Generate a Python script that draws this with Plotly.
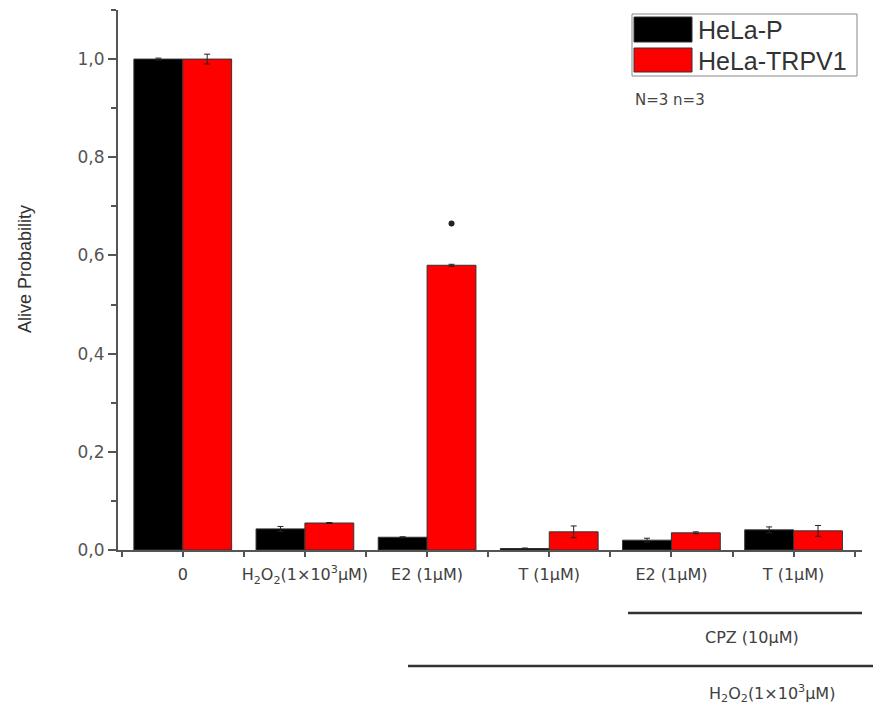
import plotly.graph_objects as go

categories = ["0", "H<sub>2</sub>O<sub>2</sub>(1×10<sup>3</sup>μM)", "E2 (1μM)", "T (1μM)", "E2 (1μM)", "T (1μM)"]
positions = [0, 1, 2, 3, 4, 5]
hela_p = [1.0, 0.043, 0.026, 0.003, 0.020, 0.041]
hela_p_err = [0.002, 0.005, 0.001, 0.001, 0.004, 0.006]
hela_trpv1 = [1.0, 0.055, 0.580, 0.037, 0.035, 0.039]
hela_trpv1_err = [0.010, 0.001, 0.002, 0.012, 0.002, 0.011]
sig_x = [2.2]
sig_y = [0.665]
y_ticks = [0.0, 0.2, 0.4, 0.6, 0.8, 1.0]

WIDE = "DejaVu Sans, Verdana, sans-serif"
ARIAL = "Liberation Sans, Arial, sans-serif"

# plot area in pixels
L, R, T, B = 118, 862, 10, 550
W, H = 873, 707


def px(x):
    return (x - L) / (R - L)


def py(y):
    return (B - y) / (B - T)


fig = go.Figure()
fig.add_trace(go.Bar(
    x=positions, y=hela_p, name="HeLa-P",
    marker=dict(color="#000000", line=dict(color="#333333", width=1)),
    error_y=dict(type="data", array=hela_p_err, color="#222222", thickness=1, width=3),
    showlegend=False,
))
fig.add_trace(go.Bar(
    x=positions, y=hela_trpv1, name="HeLa-TRPV1",
    marker=dict(color="#ff0000", line=dict(color="#333333", width=1)),
    error_y=dict(type="data", array=hela_trpv1_err, color="#222222", thickness=1, width=3),
    showlegend=False,
))
fig.add_trace(go.Scatter(
    x=sig_x, y=sig_y, mode="markers",
    marker=dict(color="#222222", size=6), showlegend=False,
))

fig.update_layout(
    width=W, height=H,
    margin=dict(l=L, r=W - R, t=T, b=H - B),
    paper_bgcolor="white", plot_bgcolor="white",
    barmode="group", bargap=0.2, bargroupgap=0,
    separators=",.",
    font=dict(family=WIDE, color="#444444", size=14),
    showlegend=False,
)
fig.update_xaxes(
    range=[-0.53, 5.56], tickvals=positions, ticktext=categories,
    showline=True, linecolor="#555555", linewidth=2,
    ticks="outside", ticklen=5, tickcolor="#555555", tickwidth=1.5,
    minor=dict(tick0=0.5, dtick=1, ticks="outside", ticklen=5, tickcolor="#555555"),
    tickfont=dict(size=16, family=WIDE, color="#404040"),
    ticklabelstandoff=4,
    showgrid=False, zeroline=False,
)
fig.update_yaxes(
    range=[0, 1.1], tickvals=y_ticks, tickformat=".1f",
    showline=True, linecolor="#555555", linewidth=2,
    ticks="outside", ticklen=8, tickcolor="#555555", tickwidth=1.5,
    minor=dict(dtick=0.1, tick0=0, ticks="outside", ticklen=5, tickcolor="#555555"),
    tickfont=dict(size=17, family=WIDE, color="#555555"),
    showgrid=False, zeroline=False,
)

shapes = []
annotations = []

# legend box
shapes.append(dict(type="rect", xref="paper", yref="paper",
                   x0=px(632), x1=px(857), y0=py(76), y1=py(14),
                   line=dict(color="#888888", width=1), fillcolor="white"))
shapes.append(dict(type="rect", xref="paper", yref="paper",
                   x0=px(634), x1=px(692), y0=py(42), y1=py(17),
                   line=dict(color="#333333", width=1), fillcolor="#000000"))
shapes.append(dict(type="rect", xref="paper", yref="paper",
                   x0=px(634), x1=px(692), y0=py(72), y1=py(48),
                   line=dict(color="#333333", width=1), fillcolor="#ff0000"))
annotations.append(dict(text="HeLa-P", xref="paper", yref="paper", x=px(696), y=py(30),
                        xanchor="left", yanchor="middle", showarrow=False,
                        font=dict(size=25, family=ARIAL, color="#333333")))
annotations.append(dict(text="HeLa-TRPV1", xref="paper", yref="paper", x=px(696), y=py(61),
                        xanchor="left", yanchor="middle", showarrow=False,
                        font=dict(size=25, family=ARIAL, color="#333333")))
annotations.append(dict(text="N=3 n=3", xref="paper", yref="paper", x=px(633), y=py(100),
                        xanchor="left", yanchor="middle", showarrow=False,
                        font=dict(size=15, family=WIDE, color="#444444")))

# y axis title
annotations.append(dict(text="Alive Probability", xref="paper", yref="paper", x=px(25), y=py(269),
                        xanchor="center", yanchor="middle", textangle=-90, showarrow=False,
                        font=dict(size=18, family=ARIAL, color="#333333")))

# treatment lines below axis
shapes.append(dict(type="line", xref="paper", yref="paper",
                   x0=px(628), x1=px(862), y0=py(613), y1=py(613),
                   line=dict(color="#333333", width=2.5)))
annotations.append(dict(text="CPZ (10μM)", xref="paper", yref="paper", x=px(752), y=py(637),
                        xanchor="center", yanchor="middle", showarrow=False,
                        font=dict(size=16, family=WIDE, color="#404040")))
shapes.append(dict(type="line", xref="paper", yref="paper",
                   x0=px(408), x1=px(873), y0=py(666), y1=py(666),
                   line=dict(color="#333333", width=2.5)))
annotations.append(dict(text="H<sub>2</sub>O<sub>2</sub>(1×10<sup>3</sup>μM)", xref="paper", yref="paper",
                        x=px(772), y=py(693), xanchor="center", yanchor="middle", showarrow=False,
                        font=dict(size=16, family=WIDE, color="#404040")))

fig.update_layout(shapes=shapes, annotations=annotations)
fig.write_html("out.html", config={"displayModeBar": False},
               post_script="document.body.style.margin='0px';")
